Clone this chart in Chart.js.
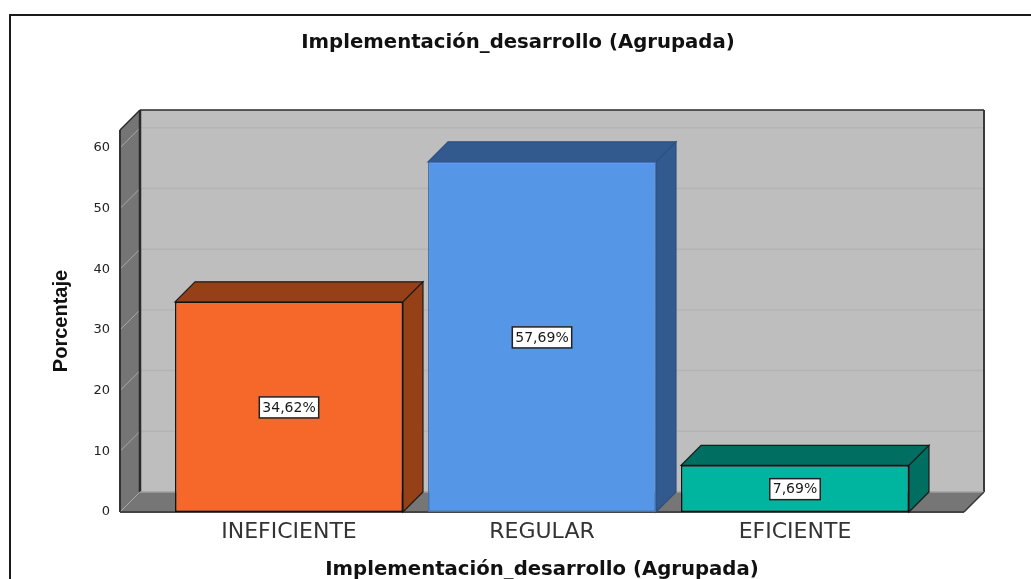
<!DOCTYPE html>
<html>
<head>
<meta charset="utf-8">
<title>Implementación_desarrollo (Agrupada)</title>
<style>
  html, body { margin: 0; padding: 0; background: #fff; overflow: hidden; }
  #frame { position: absolute; left: 9px; top: 14px; width: 1030px; height: 600px; border: 2px solid #1a1a1a; box-sizing: border-box; }
  #chart { position: absolute; left: 0; top: 0; }
</style>
<script src="https://cdn.jsdelivr.net/npm/chart.js@4/dist/chart.umd.min.js"></script>
</head>
<body>
<div id="frame"></div>
<canvas id="chart" width="1031" height="579"></canvas>
<script>
const categories = ["INEFICIENTE", "REGULAR", "EFICIENTE"];
const percentages = [34.62, 57.69, 7.69];
const pointLabels = ["34,62%", "57,69%", "7,69%"];
const yTicks = [0, 10, 20, 30, 40, 50, 60];
const frontColors = ["#f5682a", "#5596e6", "#00b5a0"];
const depthColors = ["#964018", "#325a8e", "#006e60"];
const edgeColors = ["#111111", "#3f74b8", "#111111"];
const depthEdges = ["#1a1a1a", "#2c5080", "#1a1a1a"];

const DEPTH = 20;

function poly(ctx, pts, fill, stroke, width) {
  ctx.beginPath();
  pts.forEach((p, i) => (i ? ctx.lineTo(p[0], p[1]) : ctx.moveTo(p[0], p[1])));
  ctx.closePath();
  ctx.fillStyle = fill;
  ctx.fill();
  if (stroke) {
    ctx.strokeStyle = stroke;
    ctx.lineWidth = width || 1;
    ctx.stroke();
  }
}

function line(ctx, x1, y1, x2, y2, color, width) {
  ctx.beginPath();
  ctx.moveTo(x1, y1);
  ctx.lineTo(x2, y2);
  ctx.strokeStyle = color;
  ctx.lineWidth = width;
  ctx.stroke();
}

const box3d = {
  id: "box3d",
  beforeDatasetsDraw(chart) {
    const { ctx, chartArea: a, scales } = chart;
    const d = DEPTH;
    ctx.save();
    // back wall, floor, left wall
    poly(ctx, [[a.left + d, a.top - d], [a.right + d, a.top - d], [a.right + d, a.bottom - d], [a.left + d, a.bottom - d]], "#bebebe");
    poly(ctx, [[a.left, a.bottom], [a.right, a.bottom], [a.right + d, a.bottom - d], [a.left + d, a.bottom - d]], "#767676");
    poly(ctx, [[a.left, a.top], [a.left + d, a.top - d], [a.left + d, a.bottom - d], [a.left, a.bottom]], "#757575");
    // grid lines run along the back wall and down the left wall
    yTicks.slice(1).forEach((t) => {
      const y = scales.y.getPixelForValue(t);
      line(ctx, a.left + d, y - d, a.right + d, y - d, "#b4b4b4", 1.5);
      line(ctx, a.left, y, a.left + d, y - d, "#a8a8a8", 1);
    });
    // wall edges
    line(ctx, a.left + d, a.top - d, a.right + d, a.top - d, "#2a2a2a", 1.5);
    line(ctx, a.right + d, a.top - d, a.right + d, a.bottom - d, "#3a3a3a", 2);
    line(ctx, a.left + d, a.top - d, a.left + d, a.bottom - d, "#2a2a2a", 2.5);
    line(ctx, a.left, a.top, a.left, a.bottom, "#333333", 2);
    line(ctx, a.left, a.top, a.left + d, a.top - d, "#2a2a2a", 1.5);
    line(ctx, a.left + d, a.bottom - d, a.right + d, a.bottom - d, "#a0a0a0", 1.5);
    line(ctx, a.left, a.bottom, a.left + d, a.bottom - d, "#a8a8a8", 1);
    line(ctx, a.right, a.bottom, a.right + d, a.bottom - d, "#333333", 1.5);
    line(ctx, a.left, a.bottom, a.right, a.bottom, "#444444", 2);
    // top and side face of each bar
    chart.getDatasetMeta(0).data.forEach((bar, i) => {
      const l = bar.x - bar.width / 2;
      const r = bar.x + bar.width / 2;
      poly(ctx, [[l, bar.y], [l + d, bar.y - d], [r + d, bar.y - d], [r, bar.y]], depthColors[i], depthEdges[i], 1.2);
      poly(ctx, [[r, bar.y], [r + d, bar.y - d], [r + d, bar.base - d], [r, bar.base]], depthColors[i], depthEdges[i], 1.2);
    });
    ctx.restore();
  },
  afterDatasetsDraw(chart) {
    const { ctx } = chart;
    ctx.save();
    ctx.font = "14px 'DejaVu Sans'";
    ctx.textAlign = "center";
    ctx.textBaseline = "middle";
    chart.getDatasetMeta(0).data.forEach((bar, i) => {
      const cy = (bar.y + bar.base) / 2 + 0.5;
      const w = ctx.measureText(pointLabels[i]).width + 6;
      const h = 21;
      ctx.fillStyle = "#ffffff";
      ctx.fillRect(bar.x - w / 2, cy - h / 2, w, h);
      ctx.strokeStyle = "#222222";
      ctx.lineWidth = 1.5;
      ctx.strokeRect(bar.x - w / 2, cy - h / 2, w, h);
      ctx.fillStyle = "#1a1a1a";
      ctx.fillText(pointLabels[i], bar.x, cy + 0.5);
    });
    ctx.restore();
  },
};

new Chart(document.getElementById("chart"), {
  type: "bar",
  data: {
    datasets: [
      {
        data: percentages.map((v, i) => ({ x: i, y: v })),
        backgroundColor: frontColors,
        borderColor: edgeColors,
        borderWidth: 1.5,
        borderSkipped: false,
        barPercentage: 0.901,
        categoryPercentage: 1,
      },
    ],
  },
  options: {
    responsive: false,
    animation: false,
    layout: { padding: { left: 5 } },
    plugins: {
      legend: { display: false },
      tooltip: { enabled: false },
      title: {
        display: true,
        text: "Implementación_desarrollo (Agrupada)",
        color: "#111111",
        font: { family: "'DejaVu Sans'", size: 19.7, weight: "bold", lineHeight: 1.2 },
        padding: { top: 31, bottom: 75.4 },
      },
    },
    scales: {
      x: {
        type: "linear",
        offset: false,
        min: -0.668,
        max: 2.668,
        afterFit: (s) => { s.height = 67; },
        afterBuildTicks: (s) => { s.ticks = categories.map((_, i) => ({ value: i })); },
        grid: { display: false, drawTicks: false },
        border: { display: false },
        ticks: {
          autoSkip: false,
          maxRotation: 0,
          padding: 7,
          color: "#333333",
          font: { family: "'DejaVu Sans'", size: 22 },
          callback: (v) => categories[v],
        },
        title: {
          display: true,
          text: "Implementación_desarrollo (Agrupada)",
          color: "#111111",
          font: { family: "'DejaVu Sans'", size: 19.7, weight: "bold", lineHeight: 1.2 },
          padding: { top: 9, bottom: -3 },
        },
      },
      y: {
        min: 0,
        max: 62.93,
        afterFit: (s) => { s.width = 115; },
        grid: { display: false, drawTicks: false },
        border: { display: false },
        ticks: {
          stepSize: 10,
          includeBounds: false,
          padding: 10,
          color: "#222222",
          font: { family: "'DejaVu Sans'", size: 13 },
        },
        title: {
          display: true,
          text: "Porcentaje",
          color: "#111111",
          font: { family: "'Liberation Sans'", size: 20, weight: "bold", lineHeight: 1.2 },
          padding: { top: 44, bottom: 0 },
        },
      },
      // empty axis that only keeps the margin right of the plot
      rightMargin: {
        position: "right",
        afterFit: (s) => { s.width = 67; },
        grid: { display: false, drawTicks: false },
        border: { display: false },
        ticks: { display: false },
      },
    },
  },
  plugins: [box3d],
});
</script>
</body>
</html>
